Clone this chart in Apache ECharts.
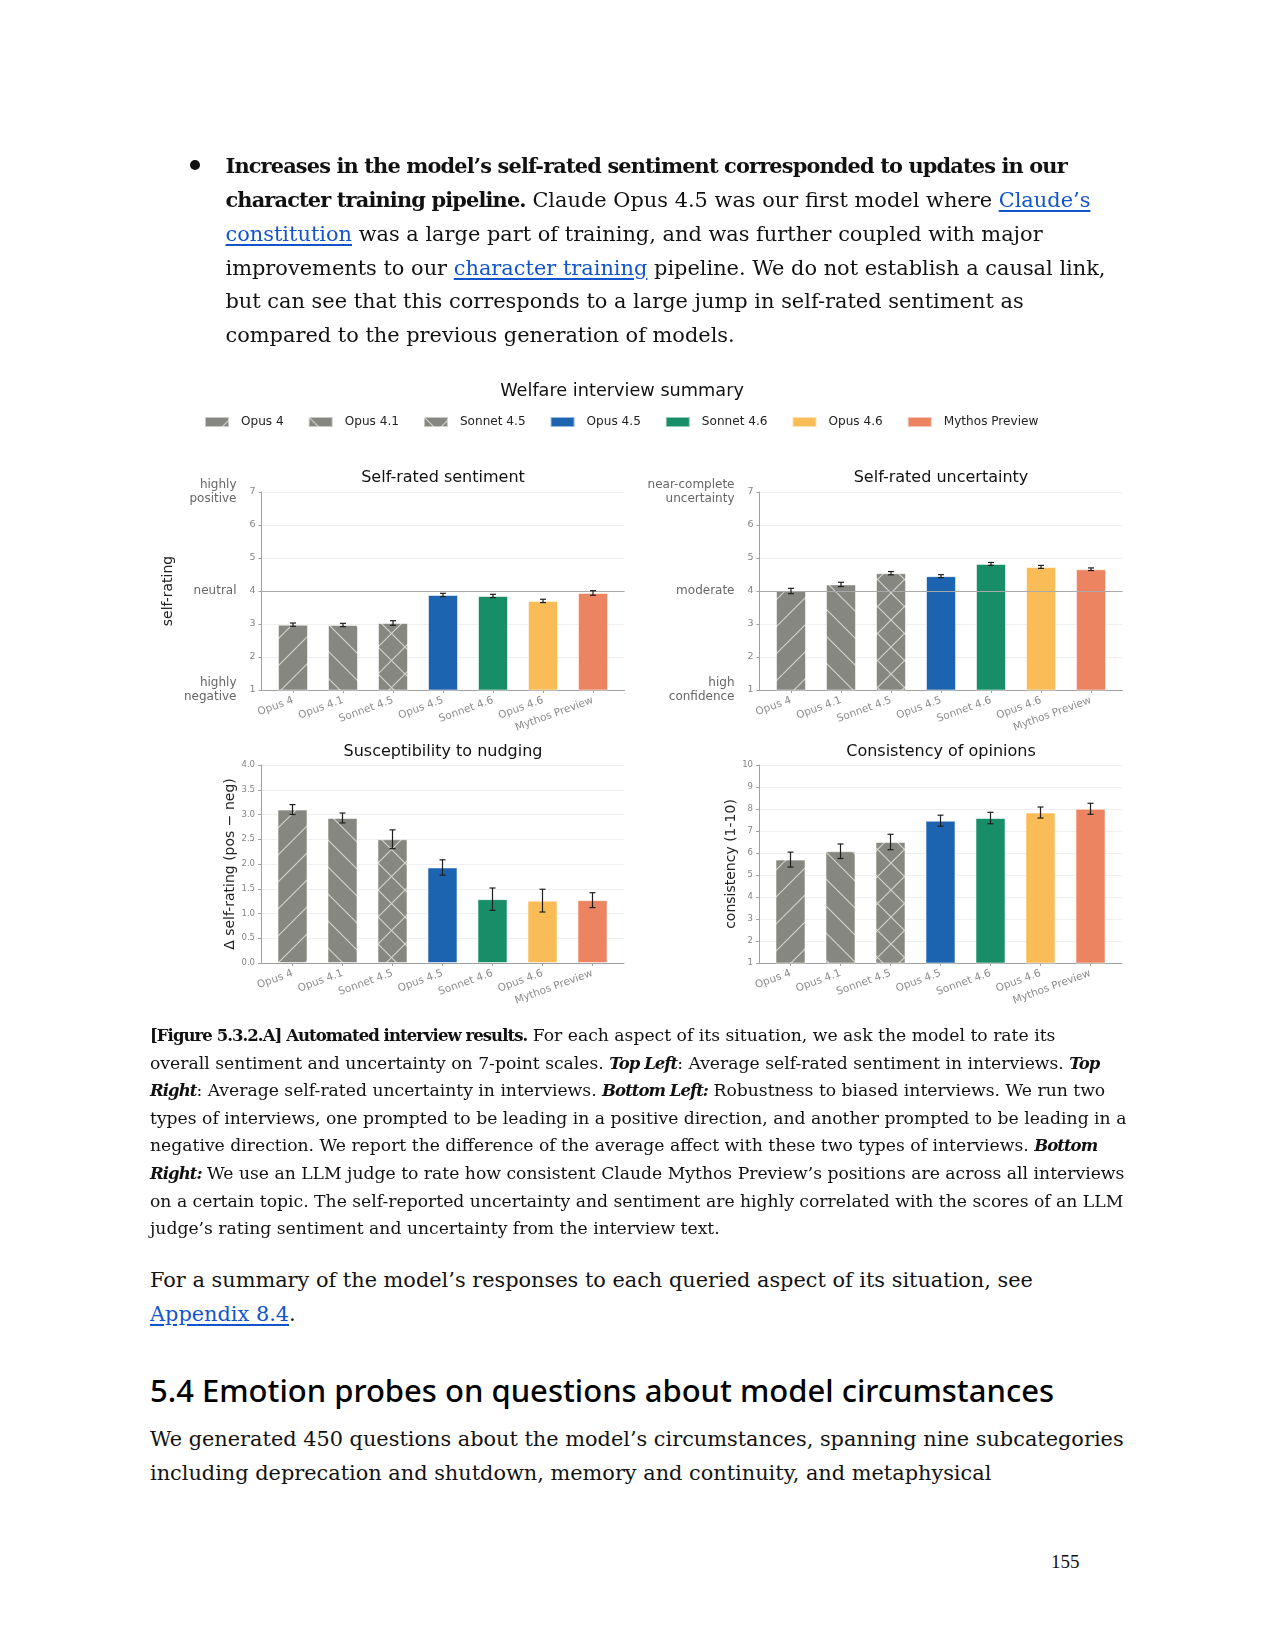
<!DOCTYPE html>
<html><head><meta charset="utf-8">
<script src="https://cdn.jsdelivr.net/npm/echarts@6/dist/echarts.min.js"></script>
<style>
html,body{margin:0;padding:0;background:#fff;}
#page{position:relative;width:1275px;height:1650px;overflow:hidden;background:#fff;}
.serif{font-family:"DejaVu Serif",serif;color:#111;}
.blk{position:absolute;white-space:nowrap;}
.body b{letter-spacing:-0.86px;}
.cap b{letter-spacing:-0.95px;font-size:16.5px;}
a{color:#1155cc;text-decoration:underline;text-underline-offset:3px;}
#chart{position:absolute;left:0;top:350px;width:1275px;height:720px;}
.dot{position:absolute;left:190px;top:160px;width:10px;height:10px;border-radius:50%;background:#111;}
h2{margin:0;font-family:"Noto Sans",sans-serif;font-weight:500;}
</style></head>
<body><div id="page">
<div class="dot"></div>
<div id="chart"></div>
<div class="blk serif body" style="left:225.5px;top:148.5px;font-size:20.9px;line-height:33.7px">
<b>Increases in the model’s self-rated sentiment corresponded to updates in our</b><br>
<b>character training pipeline.</b> Claude Opus 4.5 was our first model where <a>Claude’s</a><br>
<a>constitution</a> was a large part of training, and was further coupled with major<br>
improvements to our <a>character training</a> pipeline. We do not establish a causal link,<br>
but can see that this corresponds to a large jump in self-rated sentiment as<br>
compared to the previous generation of models.
</div>
<div class="blk serif cap" style="left:150px;top:1022px;font-size:17.2px;line-height:27.6px">
<b>[Figure 5.3.2.A] Automated interview results.</b> For each aspect of its situation, we ask the model to rate its<br>
overall sentiment and uncertainty on 7-point scales. <b><i>Top Left</i></b>: Average self-rated sentiment in interviews. <b><i>Top</i></b><br>
<b><i>Right</i></b>: Average self-rated uncertainty in interviews. <b><i>Bottom Left:</i></b> Robustness to biased interviews. We run two<br>
types of interviews, one prompted to be leading in a positive direction, and another prompted to be leading in a<br>
negative direction. We report the difference of the average affect with these two types of interviews. <b><i>Bottom</i></b><br>
<b><i>Right:</i></b> We use an LLM judge to rate how consistent Claude Mythos Preview’s positions are across all interviews<br>
on a certain topic. The self-reported uncertainty and sentiment are highly correlated with the scores of an LLM<br>
judge’s rating sentiment and uncertainty from the interview text.
</div>
<div class="blk serif" style="left:150px;top:1264px;font-size:20.85px;line-height:33.7px">
For a summary of the model’s responses to each queried aspect of its situation, see<br>
<a>Appendix 8.4</a>.
</div>
<div class="blk" style="left:150px;top:1370px;line-height:40px"><h2 style="font-size:31px;line-height:40px">5.4 Emotion probes on questions about model circumstances</h2></div>
<div class="blk serif" style="left:150px;top:1423px;font-size:20.85px;line-height:33.7px">
We generated 450 questions about the model’s circumstances, spanning nine subcategories<br>
including deprecation and shutdown, memory and continuity, and metaphysical
</div>
<div class="blk" style="left:1051px;top:1550px;font-size:19px;line-height:24px;font-family:'Liberation Serif',serif;color:#111">155</div>
</div>
<script>
// ---------------- data ----------------
const categories = ['Opus 4', 'Opus 4.1', 'Sonnet 4.5', 'Opus 4.5', 'Sonnet 4.6', 'Opus 4.6', 'Mythos Preview'];
const sentimentValues = [2.98, 2.97, 3.03, 3.88, 3.85, 3.70, 3.94];
const sentimentErrors = [0.05, 0.05, 0.07, 0.05, 0.05, 0.05, 0.07];
const uncertaintyValues = [4.00, 4.20, 4.54, 4.45, 4.82, 4.73, 4.66];
const uncertaintyErrors = [0.08, 0.065, 0.05, 0.045, 0.045, 0.045, 0.04];
const nudgingValues = [3.10, 2.93, 2.50, 1.93, 1.29, 1.26, 1.27];
const nudgingErrors = [0.10, 0.10, 0.19, 0.155, 0.225, 0.23, 0.15];
const consistencyValues = [5.70, 6.08, 6.50, 7.47, 7.59, 7.84, 8.01];
const consistencyErrors = [0.34, 0.33, 0.35, 0.25, 0.26, 0.25, 0.25];
const sentimentTickLabels = {1: 'highly\nnegative', 4: 'neutral', 7: 'highly\npositive'};
const uncertaintyTickLabels = {1: 'high\nconfidence', 4: 'moderate', 7: 'near-complete\nuncertainty'};
const referenceLevel = 4;
const mainTitle = 'Welfare interview summary';
const panelTitles = ['Self-rated sentiment', 'Self-rated uncertainty', 'Susceptibility to nudging', 'Consistency of opinions'];
const axisNames = ['self-rating', '', 'Δ self-rating (pos − neg)', 'consistency (1-10)'];

// ---------------- styles ----------------
const FONT = '"DejaVu Sans", sans-serif';
const GRAY = '#878781';
const HATCH_LINE = '#d6d5cf';
const hatchKinds = ['/', '\\', 'x', null, null, null, null];
const solidColors = [GRAY, GRAY, GRAY, '#1d64b0', '#188e68', '#f9bc56', '#ec8461'];

function makeHatch(kind, base) {
  const s = 27;
  const c = document.createElement('canvas');
  c.width = s; c.height = s;
  const g = c.getContext('2d');
  g.fillStyle = base; g.fillRect(0, 0, s, s);
  g.strokeStyle = HATCH_LINE; g.lineWidth = 1.1;
  const seg = (x1, y1, x2, y2) => { g.beginPath(); g.moveTo(x1, y1); g.lineTo(x2, y2); g.stroke(); };
  for (const k of [-1, 0, 1]) {
    if (kind === '/' || kind === 'x') seg(k * s, s, k * s + s, 0);
    if (kind === '\\' || kind === 'x') seg(k * s, 0, k * s + s, s);
  }
  return {image: c, repeat: 'repeat'};
}
const fills = categories.map((_, i) => hatchKinds[i] ? makeHatch(hatchKinds[i], solidColors[i]) : solidColors[i]);

const TOP0 = 350; // chart container top on page
const panels = [
  {values: sentimentValues, errors: sentimentErrors, min: 1, max: 7, interval: 1, left: 261.5, top: 492, height: 198,
   tickLabels: sentimentTickLabels, fs: 9.5, nameGap: 86, refLine: true, fmt: v => String(v), titleX: 443, titleY: 477},
  {values: uncertaintyValues, errors: uncertaintyErrors, min: 1, max: 7, interval: 1, left: 759.5, top: 492, height: 198,
   tickLabels: uncertaintyTickLabels, fs: 9.5, nameGap: 86, refLine: true, fmt: v => String(v), titleX: 941, titleY: 477},
  {values: nudgingValues, errors: nudgingErrors, min: 0, max: 4, interval: 0.5, left: 261, top: 765, height: 198,
   tickLabels: null, fs: 8.5, nameGap: 24, refLine: false, fmt: v => v.toFixed(1), titleX: 443, titleY: 751},
  {values: consistencyValues, errors: consistencyErrors, min: 1, max: 10, interval: 1, left: 759, top: 765, height: 198,
   tickLabels: null, fs: 8.5, nameGap: 19, refLine: false, fmt: v => String(v), titleX: 941, titleY: 751}
];
const PLOT_W = 363;
const X_MIN = -0.63, X_MAX = 6.63;
const idx = categories.map((_, i) => i);

const grid = [], xAxis = [], yAxis = [], series = [];
const title = [{text: mainTitle, left: 622, top: 390 - TOP0 - 8, textAlign: 'center', padding: 0,
  textStyle: {fontFamily: FONT, fontSize: 17.7, fontWeight: 'normal', color: '#111'}}];

panels.forEach((p, k) => {
  grid.push({left: p.left, top: p.top - TOP0, width: PLOT_W, height: p.height, containLabel: false, outerBoundsMode: 'none'});
  title.push({text: panelTitles[k], left: p.titleX, top: p.titleY - TOP0 - 7, textAlign: 'center', padding: 0,
    textStyle: {fontFamily: FONT, fontSize: 16, fontWeight: 'normal', color: '#111'}});
  xAxis.push({type: 'value', gridIndex: k, min: X_MIN, max: X_MAX,
    splitLine: {show: false},
    axisLine: {show: true, onZero: false, lineStyle: {color: '#a0a0a0', width: 1}},
    axisTick: {show: true, customValues: idx, length: 3, lineStyle: {color: '#a0a0a0'}},
    axisLabel: {customValues: idx, formatter: v => categories[v] || '', rotate: 20, fontSize: 10.5,
      color: '#8c8c8c', margin: 10, fontFamily: FONT}});
  const mainY = yAxis.length;
  yAxis.push({type: 'value', gridIndex: k, min: p.min, max: p.max, interval: p.interval,
    axisLine: {show: true, onZero: false, lineStyle: {color: '#a0a0a0', width: 1}},
    axisTick: {show: true, length: 3, lineStyle: {color: '#a0a0a0'}},
    splitLine: {show: true, lineStyle: {color: '#efefef', width: 1}},
    axisLabel: {fontSize: p.fs, color: '#858585', margin: 6, fontFamily: FONT, formatter: p.fmt},
    name: axisNames[k], nameLocation: 'middle', nameGap: p.nameGap, nameRotate: 90,
    nameTextStyle: {fontSize: 14, color: '#222', fontFamily: FONT}});
  if (p.tickLabels) {
    const tl = p.tickLabels;
    yAxis.push({type: 'value', gridIndex: k, min: p.min, max: p.max, interval: p.interval, position: 'left',
      axisLine: {show: false}, axisTick: {show: false}, splitLine: {show: false},
      axisLabel: {customValues: Object.keys(tl).map(Number), formatter: v => tl[v] || '', margin: 25,
        fontSize: 12, lineHeight: 14, color: '#666', fontFamily: FONT}});
  }
  categories.forEach((name, i) => {
    const s = {type: 'bar', name: name, xAxisIndex: k, yAxisIndex: mainY,
      data: [[i, p.values[i]]], barWidth: 30, barGap: '-100%',
      itemStyle: {color: fills[i], borderColor: 'rgba(255,255,255,0.55)', borderWidth: 1},
      emphasis: {disabled: true}};
    if (i === 0 && p.refLine) {
      s.markLine = {silent: true, symbol: 'none', label: {show: false},
        lineStyle: {color: '#aaaaaa', type: 'solid', width: 1}, data: [{yAxis: referenceLevel}]};
    }
    series.push(s);
  });
  series.push({type: 'custom', name: 'err' + k, xAxisIndex: k, yAxisIndex: mainY, z: 10, silent: true,
    data: p.values.map((v, i) => [i, v - p.errors[i], v + p.errors[i]]),
    renderItem: (params, api) => {
      const a = api.coord([api.value(0), api.value(1)]);
      const b = api.coord([api.value(0), api.value(2)]);
      const w = 3;
      const st = {stroke: '#1e1e1e', lineWidth: 1.2};
      return {type: 'group', children: [
        {type: 'line', shape: {x1: a[0], y1: a[1], x2: b[0], y2: b[1]}, style: st},
        {type: 'line', shape: {x1: a[0] - w, y1: a[1], x2: a[0] + w, y2: a[1]}, style: st},
        {type: 'line', shape: {x1: b[0] - w, y1: b[1], x2: b[0] + w, y2: b[1]}, style: st}
      ]};
    }});
});

const chart = echarts.init(document.getElementById('chart'), null, {renderer: 'canvas'});
chart.setOption({
  animation: false,
  textStyle: {fontFamily: FONT},
  title: title,
  legend: {data: categories, left: 204, top: 66, padding: 0, itemWidth: 24, itemHeight: 10, itemGap: 24, icon: 'rect',
    textStyle: {fontSize: 12.1, color: '#222', fontFamily: FONT, padding: [0, 0, 0, 7]}},
  grid: grid, xAxis: xAxis, yAxis: yAxis, series: series
});
</script>
</body></html>
